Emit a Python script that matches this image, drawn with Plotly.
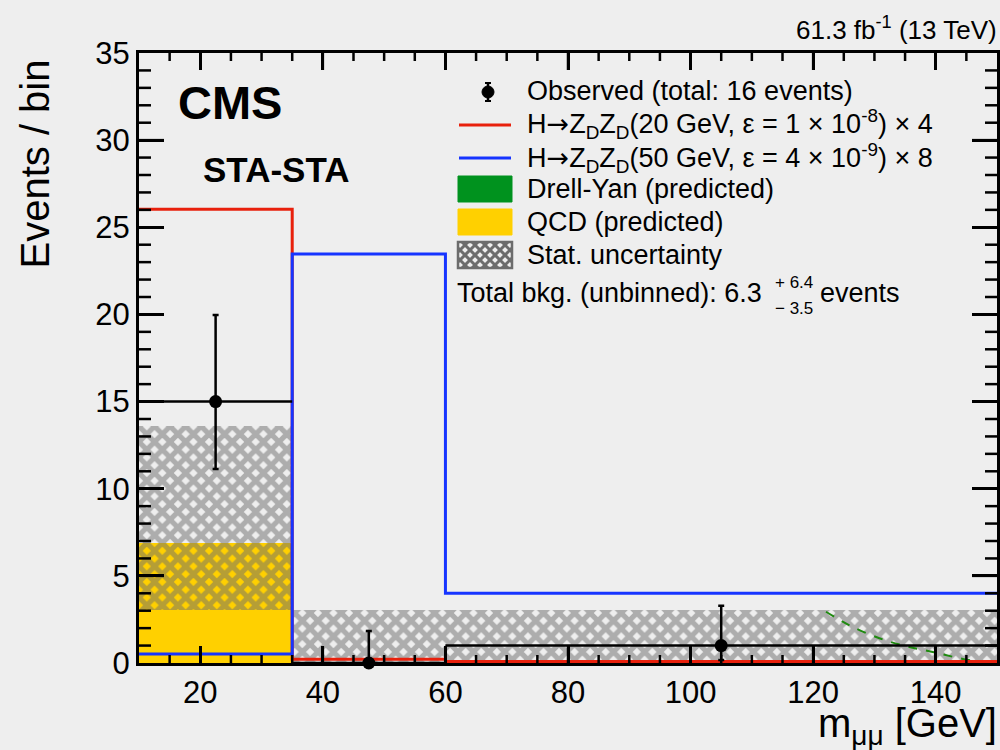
import plotly.graph_objects as go

# ---- binned m_mumu distribution (STA-STA category) ----
bin_edges = [10, 35, 60, 150]
obs_counts = [15, 0, 1]
obs_err_up = [4.97, 1.84, 2.29]
obs_err_down = [3.87, 0.0, 0.83]
sig_20gev_x4 = [26.03, 0.22, 0.08]
sig_50gev_x8 = [0.52, 23.47, 4.00]
dy_pred = [0.0, 0.0, 0.0]
qcd_pred = [6.87, 0.0, 0.0]
stat_band_lo = [3.04, 0.0, 0.0]
stat_band_hi = [13.60, 3.04, 3.04]
# Drell-Yan shape (dashed curve)
dy_curve_x = [122.1, 126.0, 130.8, 135.0, 139.7, 144.6, 150.0]
dy_curve_y = [2.94, 2.15, 1.42, 0.98, 0.62, 0.22, -0.08]

X_RANGE = [bin_edges[0], bin_edges[-1]]
Y_RANGE = [0, 35]

centers = [(a + b) / 2 for a, b in zip(bin_edges[:-1], bin_edges[1:])]
widths = [b - a for a, b in zip(bin_edges[:-1], bin_edges[1:])]
half_widths = [w / 2 for w in widths]

FONT = "Liberation Sans, Arial, Helvetica, sans-serif"
RED = "#e8200c"
BLUE = "#1634ff"
GREEN = "#00921e"
YELLOW = "#ffd000"
HATCH = "#6c6c6c"

# frame geometry in pixels (for placing text and legend symbols)
W_PX, H_PX = 1000, 750
L, R, T, B = 139, 997, 53, 663


def px(xp):
    return (xp - L) / (R - L)


def py(yp):
    return (B - yp) / (B - T)


hatch = dict(shape="x", fgcolor=HATCH, bgcolor="rgba(0,0,0,0)",
             size=11, solidity=0.72, fillmode="overlay")

fig = go.Figure()

# stacked backgrounds
fig.add_trace(go.Bar(x=centers, y=dy_pred, width=widths, base=0,
                     marker=dict(color=GREEN, line_width=0), name="Drell-Yan"))
fig.add_trace(go.Bar(x=centers, y=qcd_pred, width=widths, base=dy_pred,
                     marker=dict(color=YELLOW, line_width=0), name="QCD"))

# statistical uncertainty band
fig.add_trace(go.Bar(
    x=centers,
    y=[h - l for h, l in zip(stat_band_hi, stat_band_lo)],
    base=stat_band_lo, width=widths,
    marker=dict(color="rgba(0,0,0,0)", line_width=0, pattern=hatch),
    name="Stat. uncertainty"))

# Drell-Yan shape curve
fig.add_trace(go.Scatter(x=dy_curve_x, y=dy_curve_y, mode="lines",
                         line=dict(color="#1f8a10", width=2, dash="dash"),
                         line_shape="spline", name="DY shape"))

# signal histograms
fig.add_trace(go.Scatter(x=bin_edges, y=sig_20gev_x4 + [sig_20gev_x4[-1]],
                         mode="lines", line_shape="hv",
                         line=dict(color=RED, width=3), name="20 GeV"))
fig.add_trace(go.Scatter(x=bin_edges, y=sig_50gev_x8 + [sig_50gev_x8[-1]],
                         mode="lines", line_shape="hv",
                         line=dict(color=BLUE, width=3), name="50 GeV"))


# ROOT-style inward frame ticks on all four sides, built in axis units
def frame_tick_trace():
    x_per_px = (X_RANGE[1] - X_RANGE[0]) / (R - L)
    y_per_px = (Y_RANGE[1] - Y_RANGE[0]) / (B - T)
    xs, ys = [], []
    # x ticks: minor every 5, major every 20
    v = X_RANGE[0] + 5
    while v < X_RANGE[1]:
        length = (17 if v % 20 == 0 else 8) * y_per_px
        xs += [v, v, None, v, v, None]
        ys += [Y_RANGE[0], Y_RANGE[0] + length, None,
               Y_RANGE[1], Y_RANGE[1] - length, None]
        v += 5
    # y ticks: minor every 1, major every 5
    v = Y_RANGE[0] + 1
    while v < Y_RANGE[1]:
        length = (25 if v % 5 == 0 else 12) * x_per_px
        xs += [X_RANGE[0], X_RANGE[0] + length, None,
               X_RANGE[1], X_RANGE[1] - length, None]
        ys += [v, v, None, v, v, None]
        v += 1
    return go.Scatter(x=xs, y=ys, mode="lines", connectgaps=False,
                      line=dict(color="black", width=2.5),
                      hoverinfo="skip", name="frame ticks")


fig.add_trace(frame_tick_trace())

# observed data
fig.add_trace(go.Scatter(
    x=centers, y=obs_counts, mode="markers",
    marker=dict(color="black", size=13),
    error_y=dict(type="data", symmetric=False, array=obs_err_up,
                 arrayminus=obs_err_down, color="black", thickness=2.5,
                 width=3),
    error_x=dict(type="data", array=half_widths, color="black",
                 thickness=2.5, width=0),
    cliponaxis=False, name="Observed"))

tickfont = dict(family=FONT, size=31, color="black")

fig.update_layout(
    template="none",
    width=W_PX, height=H_PX, autosize=False,
    margin=dict(l=L, r=W_PX - R, t=T, b=H_PX - B),
    paper_bgcolor="#eeeeee", plot_bgcolor="rgba(0,0,0,0)",
    barmode="overlay", bargap=0, showlegend=False,
    font=dict(family=FONT, color="black"),
    xaxis=dict(range=X_RANGE, tickmode="linear", tick0=0, dtick=20,
               ticks="inside", ticklen=17, tickwidth=2.5, tickcolor="black",
               showline=True, linewidth=3, linecolor="black",
               mirror="allticks", showgrid=False, zeroline=False,
               tickfont=tickfont),
    yaxis=dict(range=Y_RANGE, tickmode="linear", tick0=0, dtick=5,
               ticks="inside", ticklen=25, tickwidth=2.5, tickcolor="black",
               showline=True, linewidth=3, linecolor="black",
               mirror="allticks", showgrid=False, zeroline=False,
               tickfont=tickfont),
)

shapes = []
# legend: observed marker with error bar
shapes.append(dict(type="line", xref="paper", yref="paper",
                   x0=px(488), x1=px(488), y0=py(83), y1=py(101),
                   line=dict(color="black", width=2.5)))
for yc in (83, 101):
    shapes.append(dict(type="line", xref="paper", yref="paper",
                       x0=px(485), x1=px(491), y0=py(yc), y1=py(yc),
                       line=dict(color="black", width=2)))
shapes.append(dict(type="circle", xref="paper", yref="paper",
                   x0=px(482), x1=px(494), y0=py(98), y1=py(86),
                   fillcolor="black", line=dict(color="black", width=1)))
# legend: signal lines
shapes.append(dict(type="line", xref="paper", yref="paper",
                   x0=px(459), x1=px(511), y0=py(125), y1=py(125),
                   line=dict(color=RED, width=3)))
shapes.append(dict(type="line", xref="paper", yref="paper",
                   x0=px(459), x1=px(511), y0=py(158), y1=py(158),
                   line=dict(color=BLUE, width=3)))
# legend: filled boxes
shapes.append(dict(type="rect", xref="paper", yref="paper",
                   x0=px(458), x1=px(512), y0=py(202), y1=py(176),
                   fillcolor=GREEN, line=dict(color=GREEN, width=1)))
shapes.append(dict(type="rect", xref="paper", yref="paper",
                   x0=px(458), x1=px(512), y0=py(235), y1=py(209),
                   fillcolor=YELLOW, line=dict(color=YELLOW, width=1)))


def hatch_swatch(x0, y0, x1, y1, step=10):
    """Cross-hatch glyph: 45-degree lines clipped to a pixel box."""
    segs = []
    w, h = x1 - x0, y1 - y0
    for sign in (1, -1):
        c = -h
        while c < w + h:
            if sign == 1:
                ax_, ay_, bx_, by_ = c, 0, c + h, h
            else:
                ax_, ay_, bx_, by_ = c + h, 0, c, h

            def at_x(xv):
                return ay_ + (xv - ax_) * (by_ - ay_) / (bx_ - ax_)
            lo, hi = sorted([ax_, bx_])
            cl_lo, cl_hi = max(lo, 0), min(hi, w)
            if cl_lo < cl_hi:
                segs.append((x0 + cl_lo, y0 + at_x(cl_lo),
                             x0 + cl_hi, y0 + at_x(cl_hi)))
            c += step
    return segs


for sx0, sy0, sx1, sy1 in hatch_swatch(458, 242, 512, 268):
    shapes.append(dict(type="line", xref="paper", yref="paper",
                       x0=px(sx0), y0=py(sy0), x1=px(sx1), y1=py(sy1),
                       line=dict(color=HATCH, width=3)))
shapes.append(dict(type="rect", xref="paper", yref="paper",
                   x0=px(458), x1=px(512), y0=py(268), y1=py(242),
                   fillcolor="rgba(0,0,0,0)", line=dict(color=HATCH, width=2.5)))
fig.update_layout(shapes=shapes)

LEG = 27
ann = []


def text(s, xp, yp, size, xanchor="left", yanchor="middle", bold=False, **kw):
    ann.append(dict(text=f"<b>{s}</b>" if bold else s, xref="paper",
                    yref="paper", x=px(xp), y=py(yp), xanchor=xanchor,
                    yanchor=yanchor, showarrow=False,
                    font=dict(family=FONT, size=size, color="black"), **kw))


ARROW = '<span style="font-family:DejaVu Sans">→</span>'

text("CMS", 176, 103, 47, bold=True)
text("STA-STA", 201, 170, 35, bold=True)
text("61.3 fb<sup>-1</sup> (13 TeV)", 999, 28, 26, xanchor="right")
text("Events / bin", 34, 58, 40, xanchor="center", yanchor="top",
     textangle=-90)
text("m<sub>μμ</sub> [GeV]", 999, 726, 40, xanchor="right")

text("Observed (total: 16 events)", 525, 91, LEG)
text(f"H{ARROW}Z<sub>D</sub>Z<sub>D</sub>(20 GeV, ε = 1 × 10<sup>-8</sup>) × 4",
     525, 124, LEG)
text(f"H{ARROW}Z<sub>D</sub>Z<sub>D</sub>(50 GeV, ε = 4 × 10<sup>-9</sup>) × 8",
     525, 158, LEG)
text("Drell-Yan (predicted)", 525, 189, LEG)
text("QCD (predicted)", 525, 222, LEG)
text("Stat. uncertainty", 525, 255, LEG)
text("Total bkg. (unbinned): 6.3", 455, 293, LEG)
text("+ 6.4", 773, 282, 17)
text("− 3.5", 773, 308, 17)
text("events", 818, 293, LEG)

fig.update_layout(annotations=ann)

fig.write_html("out.html")
